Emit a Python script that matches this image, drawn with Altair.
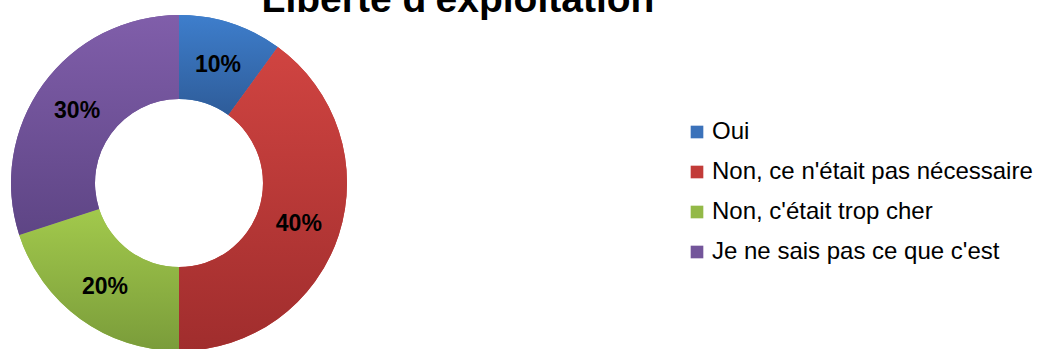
import altair as alt
import pandas as pd

categories = ["Oui", "Non, ce n'était pas nécessaire", "Non, c'était trop cher", "Je ne sais pas ce que c'est"]
values = [10, 40, 20, 30]
labels = ["10%", "40%", "20%", "30%"]
solid_colors = ["#3B72BA", "#C23B38", "#93B947", "#73559A"]
top_colors = ["#3E7ECC", "#D04441", "#A2C94C", "#805EAA"]
bottom_colors = ["#2E5C99", "#A02D2D", "#7A9C3A", "#5E4585"]
title_text = "Liberté d'exploitation"

df = pd.DataFrame({"cat": categories, "value": values, "label": labels, "idx": list(range(len(categories)))})

W, H = 1038, 349
CX, CY = 179, 183
R_OUT, R_IN = 168, 84

base = alt.Chart(df).transform_window(
    cum="sum(value)", sort=[alt.SortField("idx")], frame=[None, 0]
).transform_calculate(start="datum.cum - datum.value")

theta_enc = alt.Theta("start:Q", scale=alt.Scale(domain=[0, 100]), stack=None)

legend_layer = base.mark_arc(radius=R_OUT, radius2=R_IN).encode(
    theta=theta_enc,
    theta2="cum:Q",
    x=alt.value(CX), y=alt.value(CY),
    color=alt.Color("cat:N", sort=categories,
                    scale=alt.Scale(domain=categories, range=solid_colors),
                    legend=alt.Legend(
                        title=None, orient="none", legendX=685, legendY=120,
                        symbolType="square", symbolSize=160, symbolStrokeWidth=0,
                        labelFont="Liberation Sans", labelFontSize=24, labelColor="#000000",
                        labelOffset=3, rowPadding=16, padding=0, labelLimit=400,
                    )),
)

layers = [legend_layer]
for i in range(len(categories)):
    grad = alt.LinearGradient(
        gradient="linear", x1=0, y1=0, x2=0, y2=1,
        stops=[alt.GradientStop(offset=0, color=top_colors[i]),
               alt.GradientStop(offset=1, color=bottom_colors[i])],
    )
    layers.append(
        base.transform_filter(alt.datum.idx == i).mark_arc(radius=R_OUT, radius2=R_IN, color=grad).encode(
            theta=theta_enc, theta2="cum:Q", x=alt.value(CX), y=alt.value(CY)
        )
    )

text_layer = base.transform_calculate(mid="datum.start + datum.value / 2").mark_text(
    radius=(R_OUT + R_IN) / 2, font="Liberation Sans", fontWeight="bold", fontSize=23,
    color="#000000", align="center", baseline="middle", dy=2,
).encode(
    theta=alt.Theta("mid:Q", scale=alt.Scale(domain=[0, 100]), stack=None),
    x=alt.value(CX), y=alt.value(CY),
    text="label:N",
)

title_layer = alt.Chart(pd.DataFrame({"t": [title_text]})).mark_text(
    font="Liberation Sans", fontWeight="bold", fontSize=39, color="#000000",
    align="center", baseline="alphabetic",
).encode(x=alt.value(458), y=alt.value(12), text="t:N")

chart = alt.layer(*layers, text_layer, title_layer).properties(
    width=W, height=H, padding=0, autosize=alt.AutoSizeParams(type="none"),
    background="#FFFFFF",
).configure_view(stroke=None)

chart.save("out.html", embed_options={"renderer": "svg", "actions": False})
